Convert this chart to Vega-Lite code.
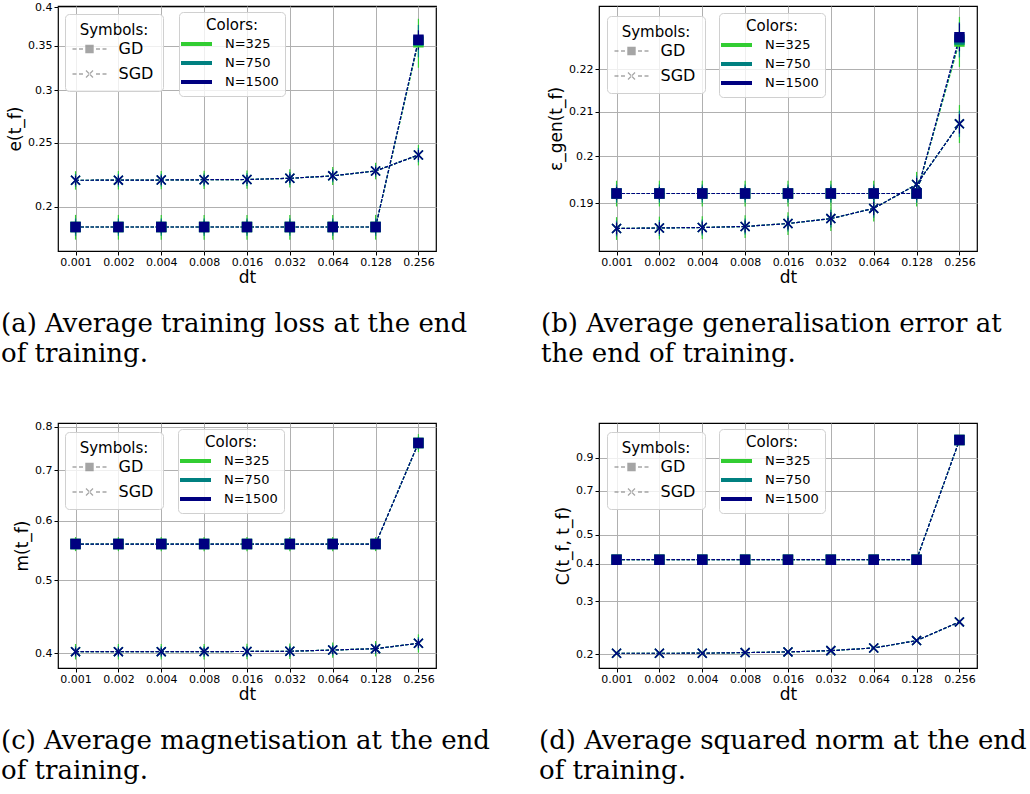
{
  "$schema": "https://vega.github.io/schema/vega-lite/v6.json",
  "padding": 0,
  "autosize": {"type": "pad"},
  "config": {
    "font": "DejaVu Sans",
    "view": {"stroke": "black", "strokeWidth": 1.2},
    "axis": {"grid": true, "gridColor": "#b0b0b0", "gridWidth": 1, "domain": false, "tickColor": "black", "tickSize": 4, "labelColor": "black", "labelFontSize": 11, "labelPadding": 1, "titleColor": "black", "titleFontSize": 17, "titleFontWeight": "normal", "titlePadding": 2},
    "axisY": {"titlePadding": 3, "labelPadding": 2},
    "title": {"font": "DejaVu Serif", "fontSize": 26, "fontWeight": "normal", "color": "black", "orient": "bottom", "anchor": "start", "frame": "group", "lineHeight": 30, "offset": 26},
    "legend": {"orient": "none", "padding": 7, "fillColor": "rgba(255,255,255,0.8)", "strokeColor": "#d0d0d0", "cornerRadius": 4, "titleFontWeight": "normal", "titleFontSize": 15, "titleColor": "black", "titleAnchor": "middle", "labelColor": "black", "titlePadding": 5}
  },
  "data": {"values": [
{"panel":"a","method":"GD","N":"N=325","dt":0.001,"value":0.1866,"low":0.1786,"high":0.1946},
{"panel":"a","method":"GD","N":"N=325","dt":0.002,"value":0.1866,"low":0.1786,"high":0.1946},
{"panel":"a","method":"GD","N":"N=325","dt":0.004,"value":0.1866,"low":0.1786,"high":0.1946},
{"panel":"a","method":"GD","N":"N=325","dt":0.008,"value":0.1866,"low":0.1786,"high":0.1946},
{"panel":"a","method":"GD","N":"N=325","dt":0.016,"value":0.1866,"low":0.1786,"high":0.1946},
{"panel":"a","method":"GD","N":"N=325","dt":0.032,"value":0.1866,"low":0.1786,"high":0.1946},
{"panel":"a","method":"GD","N":"N=325","dt":0.064,"value":0.1866,"low":0.1786,"high":0.1946},
{"panel":"a","method":"GD","N":"N=325","dt":0.128,"value":0.1866,"low":0.1786,"high":0.1946},
{"panel":"a","method":"GD","N":"N=325","dt":0.256,"value":0.354,"low":0.324,"high":0.384},
{"panel":"a","method":"SGD","N":"N=325","dt":0.001,"value":0.2194,"low":0.2124,"high":0.2264},
{"panel":"a","method":"SGD","N":"N=325","dt":0.002,"value":0.2195,"low":0.2125,"high":0.2265},
{"panel":"a","method":"SGD","N":"N=325","dt":0.004,"value":0.2196,"low":0.2126,"high":0.2266},
{"panel":"a","method":"SGD","N":"N=325","dt":0.008,"value":0.2198,"low":0.2128,"high":0.2268},
{"panel":"a","method":"SGD","N":"N=325","dt":0.016,"value":0.22,"low":0.213,"high":0.227},
{"panel":"a","method":"SGD","N":"N=325","dt":0.032,"value":0.2209,"low":0.2139,"high":0.2279},
{"panel":"a","method":"SGD","N":"N=325","dt":0.064,"value":0.2228,"low":0.2158,"high":0.2298},
{"panel":"a","method":"SGD","N":"N=325","dt":0.128,"value":0.2266,"low":0.2201,"high":0.2331},
{"panel":"a","method":"SGD","N":"N=325","dt":0.256,"value":0.2395,"low":0.231,"high":0.248},
{"panel":"b","method":"GD","N":"N=325","dt":0.001,"value":0.192,"low":0.1893,"high":0.1947},
{"panel":"b","method":"GD","N":"N=325","dt":0.002,"value":0.192,"low":0.1893,"high":0.1947},
{"panel":"b","method":"GD","N":"N=325","dt":0.004,"value":0.192,"low":0.1893,"high":0.1947},
{"panel":"b","method":"GD","N":"N=325","dt":0.008,"value":0.192,"low":0.1893,"high":0.1947},
{"panel":"b","method":"GD","N":"N=325","dt":0.016,"value":0.192,"low":0.1893,"high":0.1947},
{"panel":"b","method":"GD","N":"N=325","dt":0.032,"value":0.192,"low":0.1893,"high":0.1947},
{"panel":"b","method":"GD","N":"N=325","dt":0.064,"value":0.192,"low":0.1893,"high":0.1947},
{"panel":"b","method":"GD","N":"N=325","dt":0.128,"value":0.192,"low":0.1893,"high":0.1947},
{"panel":"b","method":"GD","N":"N=325","dt":0.256,"value":0.2267,"low":0.2205,"high":0.2329},
{"panel":"b","method":"SGD","N":"N=325","dt":0.001,"value":0.1848,"low":0.1825,"high":0.1871},
{"panel":"b","method":"SGD","N":"N=325","dt":0.002,"value":0.1849,"low":0.1826,"high":0.1872},
{"panel":"b","method":"SGD","N":"N=325","dt":0.004,"value":0.185,"low":0.1827,"high":0.1873},
{"panel":"b","method":"SGD","N":"N=325","dt":0.008,"value":0.1852,"low":0.1829,"high":0.1875},
{"panel":"b","method":"SGD","N":"N=325","dt":0.016,"value":0.1858,"low":0.1835,"high":0.1881},
{"panel":"b","method":"SGD","N":"N=325","dt":0.032,"value":0.1868,"low":0.1843,"high":0.1893},
{"panel":"b","method":"SGD","N":"N=325","dt":0.064,"value":0.1889,"low":0.1862,"high":0.1916},
{"panel":"b","method":"SGD","N":"N=325","dt":0.128,"value":0.1939,"low":0.1912,"high":0.1966},
{"panel":"b","method":"SGD","N":"N=325","dt":0.256,"value":0.2072,"low":0.2029,"high":0.2115},
{"panel":"c","method":"GD","N":"N=325","dt":0.001,"value":0.5587,"low":0.5467,"high":0.5707},
{"panel":"c","method":"GD","N":"N=325","dt":0.002,"value":0.5587,"low":0.5467,"high":0.5707},
{"panel":"c","method":"GD","N":"N=325","dt":0.004,"value":0.5587,"low":0.5467,"high":0.5707},
{"panel":"c","method":"GD","N":"N=325","dt":0.008,"value":0.5587,"low":0.5467,"high":0.5707},
{"panel":"c","method":"GD","N":"N=325","dt":0.016,"value":0.5587,"low":0.5467,"high":0.5707},
{"panel":"c","method":"GD","N":"N=325","dt":0.032,"value":0.5587,"low":0.5467,"high":0.5707},
{"panel":"c","method":"GD","N":"N=325","dt":0.064,"value":0.5587,"low":0.5467,"high":0.5707},
{"panel":"c","method":"GD","N":"N=325","dt":0.128,"value":0.5587,"low":0.5467,"high":0.5707},
{"panel":"c","method":"GD","N":"N=325","dt":0.256,"value":0.761,"low":0.74,"high":0.782},
{"panel":"c","method":"SGD","N":"N=325","dt":0.001,"value":0.402,"low":0.3925,"high":0.4115},
{"panel":"c","method":"SGD","N":"N=325","dt":0.002,"value":0.402,"low":0.3925,"high":0.4115},
{"panel":"c","method":"SGD","N":"N=325","dt":0.004,"value":0.402,"low":0.3925,"high":0.4115},
{"panel":"c","method":"SGD","N":"N=325","dt":0.008,"value":0.4021,"low":0.3926,"high":0.4116},
{"panel":"c","method":"SGD","N":"N=325","dt":0.016,"value":0.4022,"low":0.3927,"high":0.4117},
{"panel":"c","method":"SGD","N":"N=325","dt":0.032,"value":0.4025,"low":0.393,"high":0.412},
{"panel":"c","method":"SGD","N":"N=325","dt":0.064,"value":0.404,"low":0.3945,"high":0.4135},
{"panel":"c","method":"SGD","N":"N=325","dt":0.128,"value":0.4057,"low":0.3962,"high":0.4152},
{"panel":"c","method":"SGD","N":"N=325","dt":0.256,"value":0.4124,"low":0.4009,"high":0.4239},
{"panel":"d","method":"GD","N":"N=325","dt":0.001,"value":0.4125,"low":0.4075,"high":0.4175},
{"panel":"d","method":"GD","N":"N=325","dt":0.002,"value":0.4125,"low":0.4075,"high":0.4175},
{"panel":"d","method":"GD","N":"N=325","dt":0.004,"value":0.4125,"low":0.4075,"high":0.4175},
{"panel":"d","method":"GD","N":"N=325","dt":0.008,"value":0.4125,"low":0.4075,"high":0.4175},
{"panel":"d","method":"GD","N":"N=325","dt":0.016,"value":0.4125,"low":0.4075,"high":0.4175},
{"panel":"d","method":"GD","N":"N=325","dt":0.032,"value":0.4125,"low":0.4075,"high":0.4175},
{"panel":"d","method":"GD","N":"N=325","dt":0.064,"value":0.4125,"low":0.4075,"high":0.4175},
{"panel":"d","method":"GD","N":"N=325","dt":0.128,"value":0.4125,"low":0.4075,"high":0.4175},
{"panel":"d","method":"GD","N":"N=325","dt":0.256,"value":1.03,"low":1.015,"high":1.045},
{"panel":"d","method":"SGD","N":"N=325","dt":0.001,"value":0.2015,"low":0.199,"high":0.204},
{"panel":"d","method":"SGD","N":"N=325","dt":0.002,"value":0.2015,"low":0.199,"high":0.204},
{"panel":"d","method":"SGD","N":"N=325","dt":0.004,"value":0.2016,"low":0.1991,"high":0.2041},
{"panel":"d","method":"SGD","N":"N=325","dt":0.008,"value":0.2025,"low":0.2,"high":0.205},
{"panel":"d","method":"SGD","N":"N=325","dt":0.016,"value":0.2036,"low":0.2011,"high":0.2061},
{"panel":"d","method":"SGD","N":"N=325","dt":0.032,"value":0.2056,"low":0.2031,"high":0.2081},
{"panel":"d","method":"SGD","N":"N=325","dt":0.064,"value":0.2098,"low":0.2073,"high":0.2123},
{"panel":"d","method":"SGD","N":"N=325","dt":0.128,"value":0.222,"low":0.2195,"high":0.2245},
{"panel":"d","method":"SGD","N":"N=325","dt":0.256,"value":0.2562,"low":0.2522,"high":0.2602},
{"panel":"a","method":"GD","N":"N=750","dt":0.001,"value":0.1866,"low":0.181,"high":0.1922},
{"panel":"a","method":"GD","N":"N=750","dt":0.002,"value":0.1866,"low":0.181,"high":0.1922},
{"panel":"a","method":"GD","N":"N=750","dt":0.004,"value":0.1866,"low":0.181,"high":0.1922},
{"panel":"a","method":"GD","N":"N=750","dt":0.008,"value":0.1866,"low":0.181,"high":0.1922},
{"panel":"a","method":"GD","N":"N=750","dt":0.016,"value":0.1866,"low":0.181,"high":0.1922},
{"panel":"a","method":"GD","N":"N=750","dt":0.032,"value":0.1866,"low":0.181,"high":0.1922},
{"panel":"a","method":"GD","N":"N=750","dt":0.064,"value":0.1866,"low":0.181,"high":0.1922},
{"panel":"a","method":"GD","N":"N=750","dt":0.128,"value":0.1866,"low":0.181,"high":0.1922},
{"panel":"a","method":"GD","N":"N=750","dt":0.256,"value":0.356,"low":0.336,"high":0.376},
{"panel":"a","method":"SGD","N":"N=750","dt":0.001,"value":0.2194,"low":0.2145,"high":0.2243},
{"panel":"a","method":"SGD","N":"N=750","dt":0.002,"value":0.2195,"low":0.2146,"high":0.2244},
{"panel":"a","method":"SGD","N":"N=750","dt":0.004,"value":0.2196,"low":0.2147,"high":0.2245},
{"panel":"a","method":"SGD","N":"N=750","dt":0.008,"value":0.2198,"low":0.2149,"high":0.2247},
{"panel":"a","method":"SGD","N":"N=750","dt":0.016,"value":0.22,"low":0.2151,"high":0.2249},
{"panel":"a","method":"SGD","N":"N=750","dt":0.032,"value":0.2209,"low":0.216,"high":0.2258},
{"panel":"a","method":"SGD","N":"N=750","dt":0.064,"value":0.2228,"low":0.2179,"high":0.2277},
{"panel":"a","method":"SGD","N":"N=750","dt":0.128,"value":0.2266,"low":0.222,"high":0.2312},
{"panel":"a","method":"SGD","N":"N=750","dt":0.256,"value":0.2395,"low":0.2335,"high":0.2455},
{"panel":"b","method":"GD","N":"N=750","dt":0.001,"value":0.192,"low":0.1901,"high":0.1939},
{"panel":"b","method":"GD","N":"N=750","dt":0.002,"value":0.192,"low":0.1901,"high":0.1939},
{"panel":"b","method":"GD","N":"N=750","dt":0.004,"value":0.192,"low":0.1901,"high":0.1939},
{"panel":"b","method":"GD","N":"N=750","dt":0.008,"value":0.192,"low":0.1901,"high":0.1939},
{"panel":"b","method":"GD","N":"N=750","dt":0.016,"value":0.192,"low":0.1901,"high":0.1939},
{"panel":"b","method":"GD","N":"N=750","dt":0.032,"value":0.192,"low":0.1901,"high":0.1939},
{"panel":"b","method":"GD","N":"N=750","dt":0.064,"value":0.192,"low":0.1901,"high":0.1939},
{"panel":"b","method":"GD","N":"N=750","dt":0.128,"value":0.192,"low":0.1901,"high":0.1939},
{"panel":"b","method":"GD","N":"N=750","dt":0.256,"value":0.2272,"low":0.2228,"high":0.2316},
{"panel":"b","method":"SGD","N":"N=750","dt":0.001,"value":0.1848,"low":0.1832,"high":0.1864},
{"panel":"b","method":"SGD","N":"N=750","dt":0.002,"value":0.1849,"low":0.1833,"high":0.1865},
{"panel":"b","method":"SGD","N":"N=750","dt":0.004,"value":0.185,"low":0.1834,"high":0.1866},
{"panel":"b","method":"SGD","N":"N=750","dt":0.008,"value":0.1852,"low":0.1836,"high":0.1868},
{"panel":"b","method":"SGD","N":"N=750","dt":0.016,"value":0.1858,"low":0.1842,"high":0.1874},
{"panel":"b","method":"SGD","N":"N=750","dt":0.032,"value":0.1868,"low":0.185,"high":0.1886},
{"panel":"b","method":"SGD","N":"N=750","dt":0.064,"value":0.1889,"low":0.187,"high":0.1908},
{"panel":"b","method":"SGD","N":"N=750","dt":0.128,"value":0.1939,"low":0.192,"high":0.1958},
{"panel":"b","method":"SGD","N":"N=750","dt":0.256,"value":0.2072,"low":0.2042,"high":0.2102},
{"panel":"c","method":"GD","N":"N=750","dt":0.001,"value":0.5587,"low":0.5503,"high":0.5671},
{"panel":"c","method":"GD","N":"N=750","dt":0.002,"value":0.5587,"low":0.5503,"high":0.5671},
{"panel":"c","method":"GD","N":"N=750","dt":0.004,"value":0.5587,"low":0.5503,"high":0.5671},
{"panel":"c","method":"GD","N":"N=750","dt":0.008,"value":0.5587,"low":0.5503,"high":0.5671},
{"panel":"c","method":"GD","N":"N=750","dt":0.016,"value":0.5587,"low":0.5503,"high":0.5671},
{"panel":"c","method":"GD","N":"N=750","dt":0.032,"value":0.5587,"low":0.5503,"high":0.5671},
{"panel":"c","method":"GD","N":"N=750","dt":0.064,"value":0.5587,"low":0.5503,"high":0.5671},
{"panel":"c","method":"GD","N":"N=750","dt":0.128,"value":0.5587,"low":0.5503,"high":0.5671},
{"panel":"c","method":"GD","N":"N=750","dt":0.256,"value":0.761,"low":0.7463,"high":0.7757},
{"panel":"c","method":"SGD","N":"N=750","dt":0.001,"value":0.402,"low":0.3953,"high":0.4087},
{"panel":"c","method":"SGD","N":"N=750","dt":0.002,"value":0.402,"low":0.3953,"high":0.4087},
{"panel":"c","method":"SGD","N":"N=750","dt":0.004,"value":0.402,"low":0.3953,"high":0.4087},
{"panel":"c","method":"SGD","N":"N=750","dt":0.008,"value":0.4021,"low":0.3954,"high":0.4088},
{"panel":"c","method":"SGD","N":"N=750","dt":0.016,"value":0.4022,"low":0.3955,"high":0.4089},
{"panel":"c","method":"SGD","N":"N=750","dt":0.032,"value":0.4025,"low":0.3958,"high":0.4092},
{"panel":"c","method":"SGD","N":"N=750","dt":0.064,"value":0.404,"low":0.3973,"high":0.4107},
{"panel":"c","method":"SGD","N":"N=750","dt":0.128,"value":0.4057,"low":0.399,"high":0.4124},
{"panel":"c","method":"SGD","N":"N=750","dt":0.256,"value":0.4124,"low":0.4044,"high":0.4204},
{"panel":"d","method":"GD","N":"N=750","dt":0.001,"value":0.4125,"low":0.409,"high":0.416},
{"panel":"d","method":"GD","N":"N=750","dt":0.002,"value":0.4125,"low":0.409,"high":0.416},
{"panel":"d","method":"GD","N":"N=750","dt":0.004,"value":0.4125,"low":0.409,"high":0.416},
{"panel":"d","method":"GD","N":"N=750","dt":0.008,"value":0.4125,"low":0.409,"high":0.416},
{"panel":"d","method":"GD","N":"N=750","dt":0.016,"value":0.4125,"low":0.409,"high":0.416},
{"panel":"d","method":"GD","N":"N=750","dt":0.032,"value":0.4125,"low":0.409,"high":0.416},
{"panel":"d","method":"GD","N":"N=750","dt":0.064,"value":0.4125,"low":0.409,"high":0.416},
{"panel":"d","method":"GD","N":"N=750","dt":0.128,"value":0.4125,"low":0.409,"high":0.416},
{"panel":"d","method":"GD","N":"N=750","dt":0.256,"value":1.03,"low":1.0195,"high":1.0405},
{"panel":"d","method":"SGD","N":"N=750","dt":0.001,"value":0.2015,"low":0.1997,"high":0.2033},
{"panel":"d","method":"SGD","N":"N=750","dt":0.002,"value":0.2015,"low":0.1997,"high":0.2033},
{"panel":"d","method":"SGD","N":"N=750","dt":0.004,"value":0.2016,"low":0.1998,"high":0.2034},
{"panel":"d","method":"SGD","N":"N=750","dt":0.008,"value":0.2025,"low":0.2007,"high":0.2043},
{"panel":"d","method":"SGD","N":"N=750","dt":0.016,"value":0.2036,"low":0.2018,"high":0.2054},
{"panel":"d","method":"SGD","N":"N=750","dt":0.032,"value":0.2056,"low":0.2038,"high":0.2074},
{"panel":"d","method":"SGD","N":"N=750","dt":0.064,"value":0.2098,"low":0.208,"high":0.2116},
{"panel":"d","method":"SGD","N":"N=750","dt":0.128,"value":0.222,"low":0.2202,"high":0.2238},
{"panel":"d","method":"SGD","N":"N=750","dt":0.256,"value":0.2562,"low":0.2534,"high":0.259},
{"panel":"a","method":"GD","N":"N=1500","dt":0.001,"value":0.1866,"low":0.1826,"high":0.1906},
{"panel":"a","method":"GD","N":"N=1500","dt":0.002,"value":0.1866,"low":0.1826,"high":0.1906},
{"panel":"a","method":"GD","N":"N=1500","dt":0.004,"value":0.1866,"low":0.1826,"high":0.1906},
{"panel":"a","method":"GD","N":"N=1500","dt":0.008,"value":0.1866,"low":0.1826,"high":0.1906},
{"panel":"a","method":"GD","N":"N=1500","dt":0.016,"value":0.1866,"low":0.1826,"high":0.1906},
{"panel":"a","method":"GD","N":"N=1500","dt":0.032,"value":0.1866,"low":0.1826,"high":0.1906},
{"panel":"a","method":"GD","N":"N=1500","dt":0.064,"value":0.1866,"low":0.1826,"high":0.1906},
{"panel":"a","method":"GD","N":"N=1500","dt":0.128,"value":0.1866,"low":0.1826,"high":0.1906},
{"panel":"a","method":"GD","N":"N=1500","dt":0.256,"value":0.357,"low":0.345,"high":0.369},
{"panel":"a","method":"SGD","N":"N=1500","dt":0.001,"value":0.2194,"low":0.2159,"high":0.2229},
{"panel":"a","method":"SGD","N":"N=1500","dt":0.002,"value":0.2195,"low":0.216,"high":0.223},
{"panel":"a","method":"SGD","N":"N=1500","dt":0.004,"value":0.2196,"low":0.2161,"high":0.2231},
{"panel":"a","method":"SGD","N":"N=1500","dt":0.008,"value":0.2198,"low":0.2163,"high":0.2233},
{"panel":"a","method":"SGD","N":"N=1500","dt":0.016,"value":0.22,"low":0.2165,"high":0.2235},
{"panel":"a","method":"SGD","N":"N=1500","dt":0.032,"value":0.2209,"low":0.2174,"high":0.2244},
{"panel":"a","method":"SGD","N":"N=1500","dt":0.064,"value":0.2228,"low":0.2193,"high":0.2263},
{"panel":"a","method":"SGD","N":"N=1500","dt":0.128,"value":0.2266,"low":0.2234,"high":0.2299},
{"panel":"a","method":"SGD","N":"N=1500","dt":0.256,"value":0.2395,"low":0.2353,"high":0.2438},
{"panel":"b","method":"GD","N":"N=1500","dt":0.001,"value":0.192,"low":0.1907,"high":0.1934},
{"panel":"b","method":"GD","N":"N=1500","dt":0.002,"value":0.192,"low":0.1907,"high":0.1934},
{"panel":"b","method":"GD","N":"N=1500","dt":0.004,"value":0.192,"low":0.1907,"high":0.1934},
{"panel":"b","method":"GD","N":"N=1500","dt":0.008,"value":0.192,"low":0.1907,"high":0.1934},
{"panel":"b","method":"GD","N":"N=1500","dt":0.016,"value":0.192,"low":0.1907,"high":0.1934},
{"panel":"b","method":"GD","N":"N=1500","dt":0.032,"value":0.192,"low":0.1907,"high":0.1934},
{"panel":"b","method":"GD","N":"N=1500","dt":0.064,"value":0.192,"low":0.1907,"high":0.1934},
{"panel":"b","method":"GD","N":"N=1500","dt":0.128,"value":0.192,"low":0.1907,"high":0.1934},
{"panel":"b","method":"GD","N":"N=1500","dt":0.256,"value":0.2278,"low":0.2243,"high":0.2313},
{"panel":"b","method":"SGD","N":"N=1500","dt":0.001,"value":0.1848,"low":0.1836,"high":0.186},
{"panel":"b","method":"SGD","N":"N=1500","dt":0.002,"value":0.1849,"low":0.1837,"high":0.1861},
{"panel":"b","method":"SGD","N":"N=1500","dt":0.004,"value":0.185,"low":0.1838,"high":0.1862},
{"panel":"b","method":"SGD","N":"N=1500","dt":0.008,"value":0.1852,"low":0.184,"high":0.1864},
{"panel":"b","method":"SGD","N":"N=1500","dt":0.016,"value":0.1858,"low":0.1846,"high":0.187},
{"panel":"b","method":"SGD","N":"N=1500","dt":0.032,"value":0.1868,"low":0.1855,"high":0.1881},
{"panel":"b","method":"SGD","N":"N=1500","dt":0.064,"value":0.1889,"low":0.1875,"high":0.1903},
{"panel":"b","method":"SGD","N":"N=1500","dt":0.128,"value":0.1939,"low":0.1925,"high":0.1953},
{"panel":"b","method":"SGD","N":"N=1500","dt":0.256,"value":0.2072,"low":0.205,"high":0.2094},
{"panel":"c","method":"GD","N":"N=1500","dt":0.001,"value":0.5587,"low":0.5527,"high":0.5647},
{"panel":"c","method":"GD","N":"N=1500","dt":0.002,"value":0.5587,"low":0.5527,"high":0.5647},
{"panel":"c","method":"GD","N":"N=1500","dt":0.004,"value":0.5587,"low":0.5527,"high":0.5647},
{"panel":"c","method":"GD","N":"N=1500","dt":0.008,"value":0.5587,"low":0.5527,"high":0.5647},
{"panel":"c","method":"GD","N":"N=1500","dt":0.016,"value":0.5587,"low":0.5527,"high":0.5647},
{"panel":"c","method":"GD","N":"N=1500","dt":0.032,"value":0.5587,"low":0.5527,"high":0.5647},
{"panel":"c","method":"GD","N":"N=1500","dt":0.064,"value":0.5587,"low":0.5527,"high":0.5647},
{"panel":"c","method":"GD","N":"N=1500","dt":0.128,"value":0.5587,"low":0.5527,"high":0.5647},
{"panel":"c","method":"GD","N":"N=1500","dt":0.256,"value":0.761,"low":0.7505,"high":0.7715},
{"panel":"c","method":"SGD","N":"N=1500","dt":0.001,"value":0.402,"low":0.3972,"high":0.4068},
{"panel":"c","method":"SGD","N":"N=1500","dt":0.002,"value":0.402,"low":0.3972,"high":0.4068},
{"panel":"c","method":"SGD","N":"N=1500","dt":0.004,"value":0.402,"low":0.3972,"high":0.4068},
{"panel":"c","method":"SGD","N":"N=1500","dt":0.008,"value":0.4021,"low":0.3973,"high":0.4069},
{"panel":"c","method":"SGD","N":"N=1500","dt":0.016,"value":0.4022,"low":0.3974,"high":0.407},
{"panel":"c","method":"SGD","N":"N=1500","dt":0.032,"value":0.4025,"low":0.3977,"high":0.4073},
{"panel":"c","method":"SGD","N":"N=1500","dt":0.064,"value":0.404,"low":0.3992,"high":0.4088},
{"panel":"c","method":"SGD","N":"N=1500","dt":0.128,"value":0.4057,"low":0.4009,"high":0.4105},
{"panel":"c","method":"SGD","N":"N=1500","dt":0.256,"value":0.4124,"low":0.4066,"high":0.4182},
{"panel":"d","method":"GD","N":"N=1500","dt":0.001,"value":0.4125,"low":0.41,"high":0.415},
{"panel":"d","method":"GD","N":"N=1500","dt":0.002,"value":0.4125,"low":0.41,"high":0.415},
{"panel":"d","method":"GD","N":"N=1500","dt":0.004,"value":0.4125,"low":0.41,"high":0.415},
{"panel":"d","method":"GD","N":"N=1500","dt":0.008,"value":0.4125,"low":0.41,"high":0.415},
{"panel":"d","method":"GD","N":"N=1500","dt":0.016,"value":0.4125,"low":0.41,"high":0.415},
{"panel":"d","method":"GD","N":"N=1500","dt":0.032,"value":0.4125,"low":0.41,"high":0.415},
{"panel":"d","method":"GD","N":"N=1500","dt":0.064,"value":0.4125,"low":0.41,"high":0.415},
{"panel":"d","method":"GD","N":"N=1500","dt":0.128,"value":0.4125,"low":0.41,"high":0.415},
{"panel":"d","method":"GD","N":"N=1500","dt":0.256,"value":1.03,"low":1.0225,"high":1.0375},
{"panel":"d","method":"SGD","N":"N=1500","dt":0.001,"value":0.2015,"low":0.2002,"high":0.2028},
{"panel":"d","method":"SGD","N":"N=1500","dt":0.002,"value":0.2015,"low":0.2002,"high":0.2028},
{"panel":"d","method":"SGD","N":"N=1500","dt":0.004,"value":0.2016,"low":0.2003,"high":0.2029},
{"panel":"d","method":"SGD","N":"N=1500","dt":0.008,"value":0.2025,"low":0.2012,"high":0.2038},
{"panel":"d","method":"SGD","N":"N=1500","dt":0.016,"value":0.2036,"low":0.2023,"high":0.2049},
{"panel":"d","method":"SGD","N":"N=1500","dt":0.032,"value":0.2056,"low":0.2043,"high":0.2069},
{"panel":"d","method":"SGD","N":"N=1500","dt":0.064,"value":0.2098,"low":0.2085,"high":0.2111},
{"panel":"d","method":"SGD","N":"N=1500","dt":0.128,"value":0.222,"low":0.2207,"high":0.2233},
{"panel":"d","method":"SGD","N":"N=1500","dt":0.256,"value":0.2562,"low":0.2542,"high":0.2582}
  ]},
  "columns": 2,
  "bounds": "flush",
  "spacing": {"row": 172, "column": 163},
  "resolve": {"scale": {"stroke": "independent", "fill": "independent", "shape": "independent"}, "legend": {"stroke": "independent", "fill": "independent", "shape": "independent"}},
  "concat": [
    {
      "width": 378, "height": 245,
      "transform": [{"filter": "datum.panel === 'a'"}],
      "title": {"text": ["(a) Average training loss at the end", "of training."], "dx": -57},
      "resolve": {"scale": {"shape": "independent"}, "legend": {"shape": "independent"}},
      "encoding": {
        "x": {"field": "dt", "type": "quantitative", "scale": {"type": "log", "base": 2, "domain": [0.000753, 0.3401]}, "axis": {"values": [0.001, 0.002, 0.004, 0.008, 0.016, 0.032, 0.064, 0.128, 0.256], "format": ".3f", "title": "dt"}},
        "y": {"field": "value", "type": "quantitative", "scale": {"type": "log", "domain": [0.1717, 0.4014]}, "axis": {"values": [0.2, 0.25, 0.3, 0.35, 0.4], "format": "~g", "title": "e(t_f)"}},
        "stroke": {"field": "N", "type": "nominal", "scale": {"domain": ["N=325", "N=750", "N=1500"], "range": ["#32cd32", "#008080", "#000080"]}, "legend": {"title": "Colors:", "legendX": 121, "legendY": 6, "padding": 6, "titlePadding": 4, "symbolType": "M-3.1,0H3.1", "symbolSize": 100, "symbolStrokeWidth": 4, "symbolDash": [1, 0], "symbolOffset": 4.5, "labelOffset": 21.5, "labelFontSize": 13, "rowPadding": 3, "encode": {"symbols": {"update": {"size": {"value": 100}, "strokeWidth": {"value": 4}, "opacity": {"value": 1}}}}}}
      },
      "layer": [
        {"mark": {"type": "rule", "strokeWidth": 1.2}, "encoding": {"y": {"field": "low", "type": "quantitative"}, "y2": {"field": "high"}}},
        {"mark": {"type": "line", "strokeWidth": 1.2, "strokeDash": [3.5, 1.5]}, "encoding": {"detail": {"field": "method"}}},
        {"mark": {"type": "point", "filled": true, "size": 80, "strokeWidth": 1.5, "opacity": 1}, "encoding": {"shape": {"field": "method", "type": "nominal", "scale": {"domain": ["GD", "SGD"], "range": ["square", "M-1,-1L1,1M-1,1L1,-1"]}, "legend": null}, "fill": {"field": "N", "type": "nominal", "scale": {"domain": ["N=325", "N=750", "N=1500"], "range": ["#32cd32", "#008080", "#000080"]}, "legend": null}}},
        {"transform": [{"filter": "datum.dt < 0"}], "mark": {"type": "point", "filled": true, "size": 196, "color": "#7f7f7f"}, "encoding": {"shape": {"field": "method", "type": "nominal", "scale": {"domain": ["GD", "SGD"], "range": ["M-2.43,-0.09H-1.86V0.09H-2.43ZM-1.5,-0.09H-0.93V0.09H-1.5ZM-0.6,-0.6H0.6V0.6H-0.6ZM0.93,-0.09H1.5V0.09H0.93ZM1.86,-0.09H2.43V0.09H1.86Z", "M-2.43,-0.09H-1.86V0.09H-2.43ZM-1.5,-0.09H-0.93V0.09H-1.5ZM-0.44,-0.56L0.56,0.44L0.44,0.56L-0.56,-0.44ZM-0.44,0.56L0.56,-0.44L0.44,-0.56L-0.56,0.44ZM0.93,-0.09H1.5V0.09H0.93ZM1.86,-0.09H2.43V0.09H1.86Z"]}, "legend": {"title": "Symbols:", "legendX": 7, "legendY": 8, "padding": 9, "symbolSize": 196, "symbolStrokeWidth": 0, "symbolOffset": 7.5, "labelOffset": 21, "labelFontSize": 16, "rowPadding": 9, "titlePadding": 3, "encode": {"symbols": {"update": {"size": {"value": 196}, "fill": {"value": "#7f7f7f"}, "opacity": {"value": 1}, "fillOpacity": {"value": 1}}}}}}}}
      ]
    },
    {
      "width": 378, "height": 245,
      "transform": [{"filter": "datum.panel === 'b'"}],
      "title": {"text": ["(b) Average generalisation error at", "the end of training."], "dx": -58},
      "resolve": {"scale": {"shape": "independent"}, "legend": {"shape": "independent"}},
      "encoding": {
        "x": {"field": "dt", "type": "quantitative", "scale": {"type": "log", "base": 2, "domain": [0.000753, 0.3401]}, "axis": {"values": [0.001, 0.002, 0.004, 0.008, 0.016, 0.032, 0.064, 0.128, 0.256], "format": ".3f", "title": "dt"}},
        "y": {"field": "value", "type": "quantitative", "scale": {"type": "log", "domain": [0.1803, 0.2357]}, "axis": {"values": [0.19, 0.2, 0.21, 0.22], "format": "~g", "title": "ε_gen(t_f)"}},
        "stroke": {"field": "N", "type": "nominal", "scale": {"domain": ["N=325", "N=750", "N=1500"], "range": ["#32cd32", "#008080", "#000080"]}, "legend": {"title": "Colors:", "legendX": 120, "legendY": 7, "padding": 6, "titlePadding": 4, "symbolType": "M-3.1,0H3.1", "symbolSize": 100, "symbolStrokeWidth": 4, "symbolDash": [1, 0], "symbolOffset": 4.5, "labelOffset": 21.5, "labelFontSize": 13, "rowPadding": 3, "encode": {"symbols": {"update": {"size": {"value": 100}, "strokeWidth": {"value": 4}, "opacity": {"value": 1}}}}}}
      },
      "layer": [
        {"mark": {"type": "rule", "strokeWidth": 1.2}, "encoding": {"y": {"field": "low", "type": "quantitative"}, "y2": {"field": "high"}}},
        {"mark": {"type": "line", "strokeWidth": 1.2, "strokeDash": [3.5, 1.5]}, "encoding": {"detail": {"field": "method"}}},
        {"mark": {"type": "point", "filled": true, "size": 80, "strokeWidth": 1.5, "opacity": 1}, "encoding": {"shape": {"field": "method", "type": "nominal", "scale": {"domain": ["GD", "SGD"], "range": ["square", "M-1,-1L1,1M-1,1L1,-1"]}, "legend": null}, "fill": {"field": "N", "type": "nominal", "scale": {"domain": ["N=325", "N=750", "N=1500"], "range": ["#32cd32", "#008080", "#000080"]}, "legend": null}}},
        {"transform": [{"filter": "datum.dt < 0"}], "mark": {"type": "point", "filled": true, "size": 196, "color": "#7f7f7f"}, "encoding": {"shape": {"field": "method", "type": "nominal", "scale": {"domain": ["GD", "SGD"], "range": ["M-2.43,-0.09H-1.86V0.09H-2.43ZM-1.5,-0.09H-0.93V0.09H-1.5ZM-0.6,-0.6H0.6V0.6H-0.6ZM0.93,-0.09H1.5V0.09H0.93ZM1.86,-0.09H2.43V0.09H1.86Z", "M-2.43,-0.09H-1.86V0.09H-2.43ZM-1.5,-0.09H-0.93V0.09H-1.5ZM-0.44,-0.56L0.56,0.44L0.44,0.56L-0.56,-0.44ZM-0.44,0.56L0.56,-0.44L0.44,-0.56L-0.56,0.44ZM0.93,-0.09H1.5V0.09H0.93ZM1.86,-0.09H2.43V0.09H1.86Z"]}, "legend": {"title": "Symbols:", "legendX": 8, "legendY": 10, "padding": 9, "symbolSize": 196, "symbolStrokeWidth": 0, "symbolOffset": 7.5, "labelOffset": 21, "labelFontSize": 16, "rowPadding": 9, "titlePadding": 3, "encode": {"symbols": {"update": {"size": {"value": 196}, "fill": {"value": "#7f7f7f"}, "opacity": {"value": 1}, "fillOpacity": {"value": 1}}}}}}}}
      ]
    },
    {
      "width": 378, "height": 245,
      "transform": [{"filter": "datum.panel === 'c'"}],
      "title": {"text": ["(c) Average magnetisation at the end", "of training."], "dx": -57},
      "resolve": {"scale": {"shape": "independent"}, "legend": {"shape": "independent"}},
      "encoding": {
        "x": {"field": "dt", "type": "quantitative", "scale": {"type": "log", "base": 2, "domain": [0.000753, 0.3401]}, "axis": {"values": [0.001, 0.002, 0.004, 0.008, 0.016, 0.032, 0.064, 0.128, 0.256], "format": ".3f", "title": "dt"}},
        "y": {"field": "value", "type": "quantitative", "scale": {"type": "log", "domain": [0.3824, 0.809]}, "axis": {"values": [0.4, 0.5, 0.6, 0.7, 0.8], "format": "~g", "title": "m(t_f)"}},
        "stroke": {"field": "N", "type": "nominal", "scale": {"domain": ["N=325", "N=750", "N=1500"], "range": ["#32cd32", "#008080", "#000080"]}, "legend": {"title": "Colors:", "legendX": 120, "legendY": 6, "padding": 6, "titlePadding": 4, "symbolType": "M-3.1,0H3.1", "symbolSize": 100, "symbolStrokeWidth": 4, "symbolDash": [1, 0], "symbolOffset": 4.5, "labelOffset": 21.5, "labelFontSize": 13, "rowPadding": 3, "encode": {"symbols": {"update": {"size": {"value": 100}, "strokeWidth": {"value": 4}, "opacity": {"value": 1}}}}}}
      },
      "layer": [
        {"mark": {"type": "rule", "strokeWidth": 1.2}, "encoding": {"y": {"field": "low", "type": "quantitative"}, "y2": {"field": "high"}}},
        {"mark": {"type": "line", "strokeWidth": 1.2, "strokeDash": [3.5, 1.5]}, "encoding": {"detail": {"field": "method"}}},
        {"mark": {"type": "point", "filled": true, "size": 80, "strokeWidth": 1.5, "opacity": 1}, "encoding": {"shape": {"field": "method", "type": "nominal", "scale": {"domain": ["GD", "SGD"], "range": ["square", "M-1,-1L1,1M-1,1L1,-1"]}, "legend": null}, "fill": {"field": "N", "type": "nominal", "scale": {"domain": ["N=325", "N=750", "N=1500"], "range": ["#32cd32", "#008080", "#000080"]}, "legend": null}}},
        {"transform": [{"filter": "datum.dt < 0"}], "mark": {"type": "point", "filled": true, "size": 196, "color": "#7f7f7f"}, "encoding": {"shape": {"field": "method", "type": "nominal", "scale": {"domain": ["GD", "SGD"], "range": ["M-2.43,-0.09H-1.86V0.09H-2.43ZM-1.5,-0.09H-0.93V0.09H-1.5ZM-0.6,-0.6H0.6V0.6H-0.6ZM0.93,-0.09H1.5V0.09H0.93ZM1.86,-0.09H2.43V0.09H1.86Z", "M-2.43,-0.09H-1.86V0.09H-2.43ZM-1.5,-0.09H-0.93V0.09H-1.5ZM-0.44,-0.56L0.56,0.44L0.44,0.56L-0.56,-0.44ZM-0.44,0.56L0.56,-0.44L0.44,-0.56L-0.56,0.44ZM0.93,-0.09H1.5V0.09H0.93ZM1.86,-0.09H2.43V0.09H1.86Z"]}, "legend": {"title": "Symbols:", "legendX": 7, "legendY": 9, "padding": 9, "symbolSize": 196, "symbolStrokeWidth": 0, "symbolOffset": 7.5, "labelOffset": 21, "labelFontSize": 16, "rowPadding": 9, "titlePadding": 3, "encode": {"symbols": {"update": {"size": {"value": 196}, "fill": {"value": "#7f7f7f"}, "opacity": {"value": 1}, "fillOpacity": {"value": 1}}}}}}}}
      ]
    },
    {
      "width": 378, "height": 245,
      "transform": [{"filter": "datum.panel === 'd'"}],
      "title": {"text": ["(d) Average squared norm at the end", "of training."], "dx": -60},
      "resolve": {"scale": {"shape": "independent"}, "legend": {"shape": "independent"}},
      "encoding": {
        "x": {"field": "dt", "type": "quantitative", "scale": {"type": "log", "base": 2, "domain": [0.000753, 0.3401]}, "axis": {"values": [0.001, 0.002, 0.004, 0.008, 0.016, 0.032, 0.064, 0.128, 0.256], "format": ".3f", "title": "dt"}},
        "y": {"field": "value", "type": "quantitative", "scale": {"type": "log", "domain": [0.18, 1.174]}, "axis": {"values": [0.2, 0.3, 0.4, 0.5, 0.7, 0.9], "format": "~g", "title": "C(t_f, t_f)"}},
        "stroke": {"field": "N", "type": "nominal", "scale": {"domain": ["N=325", "N=750", "N=1500"], "range": ["#32cd32", "#008080", "#000080"]}, "legend": {"title": "Colors:", "legendX": 120, "legendY": 6, "padding": 6, "titlePadding": 4, "symbolType": "M-3.1,0H3.1", "symbolSize": 100, "symbolStrokeWidth": 4, "symbolDash": [1, 0], "symbolOffset": 4.5, "labelOffset": 21.5, "labelFontSize": 13, "rowPadding": 3, "encode": {"symbols": {"update": {"size": {"value": 100}, "strokeWidth": {"value": 4}, "opacity": {"value": 1}}}}}}
      },
      "layer": [
        {"mark": {"type": "rule", "strokeWidth": 1.2}, "encoding": {"y": {"field": "low", "type": "quantitative"}, "y2": {"field": "high"}}},
        {"mark": {"type": "line", "strokeWidth": 1.2, "strokeDash": [3.5, 1.5]}, "encoding": {"detail": {"field": "method"}}},
        {"mark": {"type": "point", "filled": true, "size": 80, "strokeWidth": 1.5, "opacity": 1}, "encoding": {"shape": {"field": "method", "type": "nominal", "scale": {"domain": ["GD", "SGD"], "range": ["square", "M-1,-1L1,1M-1,1L1,-1"]}, "legend": null}, "fill": {"field": "N", "type": "nominal", "scale": {"domain": ["N=325", "N=750", "N=1500"], "range": ["#32cd32", "#008080", "#000080"]}, "legend": null}}},
        {"transform": [{"filter": "datum.dt < 0"}], "mark": {"type": "point", "filled": true, "size": 196, "color": "#7f7f7f"}, "encoding": {"shape": {"field": "method", "type": "nominal", "scale": {"domain": ["GD", "SGD"], "range": ["M-2.43,-0.09H-1.86V0.09H-2.43ZM-1.5,-0.09H-0.93V0.09H-1.5ZM-0.6,-0.6H0.6V0.6H-0.6ZM0.93,-0.09H1.5V0.09H0.93ZM1.86,-0.09H2.43V0.09H1.86Z", "M-2.43,-0.09H-1.86V0.09H-2.43ZM-1.5,-0.09H-0.93V0.09H-1.5ZM-0.44,-0.56L0.56,0.44L0.44,0.56L-0.56,-0.44ZM-0.44,0.56L0.56,-0.44L0.44,-0.56L-0.56,0.44ZM0.93,-0.09H1.5V0.09H0.93ZM1.86,-0.09H2.43V0.09H1.86Z"]}, "legend": {"title": "Symbols:", "legendX": 8, "legendY": 9, "padding": 9, "symbolSize": 196, "symbolStrokeWidth": 0, "symbolOffset": 7.5, "labelOffset": 21, "labelFontSize": 16, "rowPadding": 9, "titlePadding": 3, "encode": {"symbols": {"update": {"size": {"value": 196}, "fill": {"value": "#7f7f7f"}, "opacity": {"value": 1}, "fillOpacity": {"value": 1}}}}}}}}
      ]
    }
  ]
}
